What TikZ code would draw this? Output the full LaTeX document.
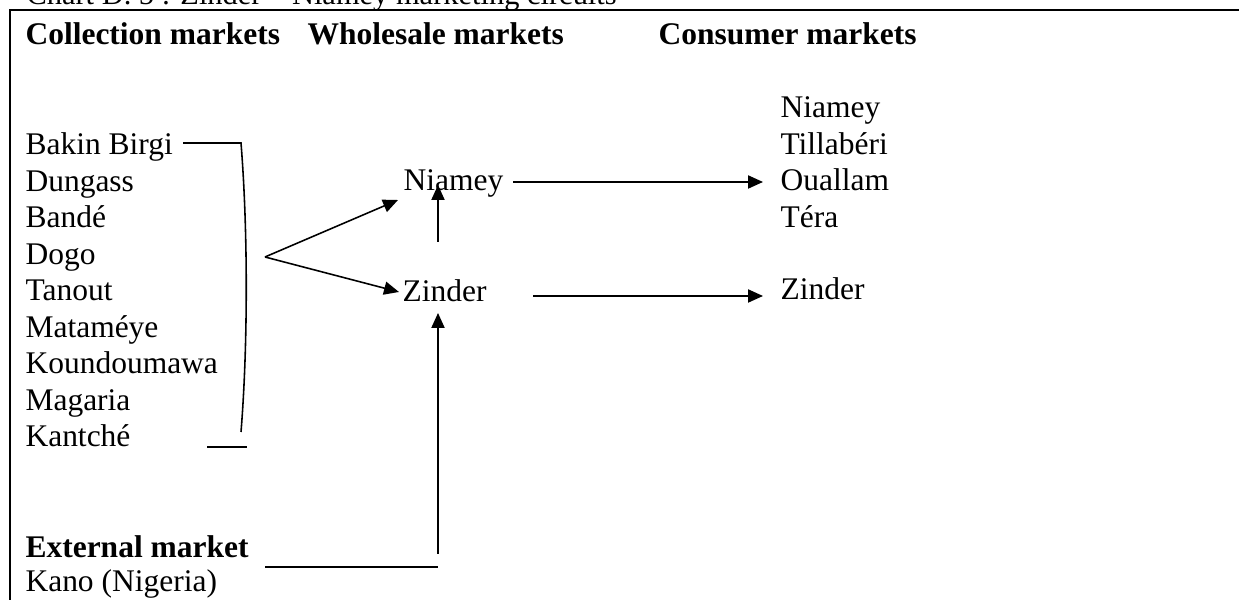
\documentclass[tikz,border=0pt]{standalone}
\usepackage{fontspec}
\setmainfont{Liberation Serif}
\usetikzlibrary{arrows.meta}
\begin{document}
\begin{tikzpicture}[x=0.381pt,y=-0.381pt,
  lbl/.style={anchor=base west, inner sep=0pt, font=\fontsize{12}{14}\selectfont},
  hdr/.style={anchor=base west, inner sep=0pt, font=\fontsize{12}{14}\selectfont\bfseries},
  conn/.style={line width=0.6pt},
  arr/.style={line width=0.6pt, -{Triangle[length=5.7pt,width=5pt]}},
  framestyle/.style={line width=0.8pt}]
\useasboundingbox (0,0) rectangle (1239,600);
% title (cut by page edge, as in the reference)
\node[anchor=base west, inner sep=0pt, font=\fontsize{11.6}{14}\selectfont] (title) at (26,5) {Chart D. 5 : Zinder – Niamey marketing circuits};
% frame
\coordinate (ftr) at (1245,10);
\coordinate (ftl) at (10,10);
\coordinate (fbl) at (10,610);
\draw[framestyle] (ftr) -- (ftl) -- (fbl);
% headers
\node[hdr] (hcol) at (25,45) {Collection markets};
\node[hdr] (hwho) at (307,45) {Wholesale markets};
\node[hdr] (hcon) at (658,45) {Consumer markets};
% collection markets
\node[lbl] (c1) at (25,155) {Bakin Birgi};
\node[lbl] (c2) at (25,191.5) {Dungass};
\node[lbl] (c3) at (25,228) {Bandé};
\node[lbl] (c4) at (25,264.5) {Dogo};
\node[lbl] (c5) at (25,301) {Tanout};
\node[lbl] (c6) at (25,337.5) {Mataméye};
\node[lbl] (c7) at (25,374) {Koundoumawa};
\node[lbl] (c8) at (25,410.5) {Magaria};
\node[lbl] (c9) at (25,447) {Kantché};
% external
\node[hdr] (ext) at (25,558) {External market};
\node[lbl] (kano) at (25,592) {Kano (Nigeria)};
% wholesale
\node[lbl] (wn) at (403,191) {Niamey};
\node[lbl] (wz) at (402,302) {Zinder};
% consumer
\node[lbl] (k1) at (780,118) {Niamey};
\node[lbl] (k2) at (780,154.5) {Tillabéri};
\node[lbl] (k3) at (780,191) {Ouallam};
\node[lbl] (k4) at (780,227.5) {Téra};
\node[lbl] (kz) at (780,300) {Zinder};
% bracket
\coordinate (b0) at (183,143);
\coordinate (b1) at (241,143);
\coordinate (b2) at (241,432);
\draw[conn] (b0) -- (b1) .. controls (248,230) and (248,345) .. (b2);
\coordinate (s0) at (207,447);
\coordinate (s1) at (247,447);
\draw[conn] (s0) -- (s1);
% branch
\coordinate (tip) at (265,257);
\coordinate (tn) at (398,200);
\coordinate (tz) at (399,292);
\draw[arr] (tip) -- (tn);
\draw[arr] (tip) -- (tz);
% Zinder -> Niamey (up)
\coordinate (u0) at (438,242);
\coordinate (u1) at (438,185);
\draw[arr] (u0) -- (u1);
% wholesale -> consumer
\coordinate (n0) at (513,182);
\coordinate (n1) at (763,182);
\draw[arr] (n0) -- (n1);
\coordinate (z0) at (533,296);
\coordinate (z1) at (763,296);
\draw[arr] (z0) -- (z1);
% external -> Zinder
\coordinate (e0) at (265,567);
\coordinate (e1) at (438,567);
\draw[conn] (e0) -- (e1);
\coordinate (v0) at (438,554);
\coordinate (v1) at (438,313);
\draw[arr] (v0) -- (v1);
\end{tikzpicture}
\end{document}
